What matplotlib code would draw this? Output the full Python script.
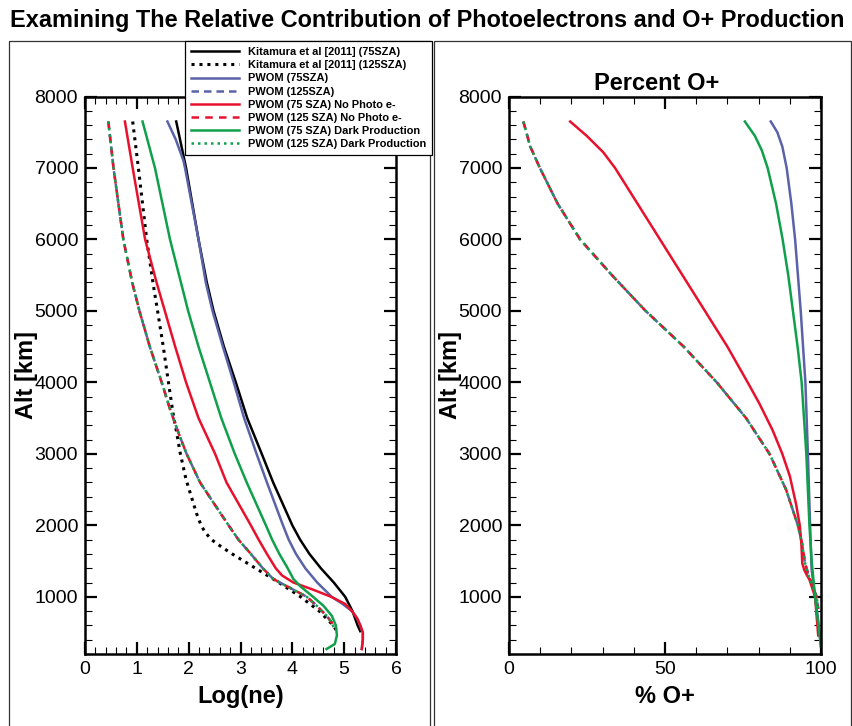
import matplotlib
matplotlib.use("Agg")
import matplotlib.pyplot as plt
from matplotlib.patches import Rectangle
from matplotlib.ticker import MultipleLocator

plt.rcParams['font.family'] = ['Liberation Sans', 'DejaVu Sans']

# ---- left panel: Log(ne) vs altitude ----
kit75_alt = [7650, 7000, 6000, 5400, 5000, 4500, 4000, 3500, 3000, 2600, 2000, 1800,
             1600, 1400, 1200, 1000, 800, 600, 520]
kit75_ne = [1.76, 1.95, 2.19, 2.35, 2.48, 2.68, 2.91, 3.13, 3.41, 3.63, 4.00, 4.15,
            4.33, 4.55, 4.80, 5.02, 5.16, 5.26, 5.31]

kit125_alt = [7650, 7000, 6000, 5400, 5000, 4500, 4000, 3560, 3330, 3000, 2640, 2170,
              2000, 1900, 1800, 1700, 1600, 1400, 1200, 1000, 800, 600, 520]
kit125_ne = [0.92, 1.03, 1.19, 1.31, 1.40, 1.51, 1.61, 1.70, 1.76, 1.84, 1.95, 2.15,
             2.24, 2.32, 2.44, 2.63, 2.84, 3.29, 3.74, 4.16, 4.52, 4.79, 4.86]

pwom75_alt = [7650, 7400, 7100, 7000, 6000, 5400, 5000, 4500, 4000, 3500, 3000, 2600,
              2000, 1800, 1600, 1400, 1200, 1000, 900, 800, 700, 600, 500, 400, 270]
pwom75_ne = [1.59, 1.75, 1.90, 1.93, 2.19, 2.33, 2.46, 2.66, 2.87, 3.07, 3.31, 3.51,
             3.82, 3.93, 4.07, 4.25, 4.48, 4.76, 4.97, 5.15, 5.25, 5.31, 5.36, 5.36, 5.34]

# 125 SZA PWOM runs (all three overlap)
pwom125_alt = [7650, 7000, 6000, 5400, 5000, 4500, 4000, 3650, 3300, 3000, 2600, 2250,
               2000, 1800, 1700, 1600, 1400, 1250, 1100, 1000, 875, 736, 640, 570]
pwom125_ne = [0.45, 0.55, 0.74, 0.91, 1.05, 1.25, 1.48, 1.63, 1.80, 1.96, 2.22, 2.54,
              2.77, 2.96, 3.08, 3.20, 3.43, 3.63, 4.02, 4.28, 4.47, 4.66, 4.76, 4.80]

nophoto75_alt = [7650, 7000, 6000, 5400, 5000, 4500, 4000, 3500, 3000, 2600, 2000, 1800,
                 1600, 1400, 1300, 1200, 1100, 1000, 900, 800, 700, 600, 500, 400, 270]
nophoto75_ne = [0.77, 0.92, 1.16, 1.38, 1.54, 1.74, 1.95, 2.19, 2.51, 2.73, 3.20, 3.35,
                3.51, 3.68, 3.80, 4.02, 4.40, 4.75, 5.02, 5.15, 5.25, 5.31, 5.36, 5.36, 5.34]

dark75_alt = [7650, 7000, 6000, 5400, 5000, 4500, 4000, 3500, 3000, 2600, 2000, 1800,
              1600, 1400, 1250, 1150, 1000, 875, 736, 600, 460, 340, 270]
dark75_ne = [1.11, 1.35, 1.64, 1.85, 1.99, 2.19, 2.41, 2.63, 2.89, 3.12, 3.49, 3.61,
             3.75, 3.91, 4.02, 4.15, 4.40, 4.60, 4.76, 4.84, 4.86, 4.82, 4.66]

# ---- right panel: percent O+ vs altitude ----
pct_pwom75_alt = [7650, 7500, 7300, 7000, 6500, 6000, 5000, 4000, 3000, 2000, 1380, 1000, 700, 300]
pct_pwom75 = [83.9, 86.0, 87.6, 89.0, 90.5, 91.7, 93.5, 95.0, 95.8, 96.5, 97.0, 98.1, 99.0, 100.0]

pct_pwom125_alt = [7650, 7300, 7000, 6500, 6000, 5500, 5000, 4500, 4000, 3500, 3000,
                   2500, 2000, 1750, 1470, 1300, 1000, 830]
pct_pwom125 = [4.6, 6.8, 9.9, 15.6, 22.8, 33.0, 43.8, 56.0, 66.6, 76.0, 83.5,
               88.8, 92.6, 93.9, 94.9, 96.0, 98.6, 99.1]

pct_nophoto75_alt = [7650, 7450, 7220, 7000, 6000, 5000, 4500, 4000, 3700, 3330, 3000,
                     2690, 2300, 2000, 1750, 1470, 1380, 1300, 1240, 1000, 460]
pct_nophoto75 = [19.6, 24.9, 30.2, 34.0, 48.4, 62.8, 70.0, 76.5, 80.3, 84.5, 87.6,
                 90.0, 92.0, 93.2, 93.7, 94.0, 94.6, 95.5, 96.3, 98.1, 99.1]

pct_dark75_alt = [7650, 7450, 7250, 7000, 6500, 6000, 5500, 5000, 4500, 4000, 3000,
                  2000, 1500, 1000, 410, 300]
pct_dark75 = [75.6, 78.8, 81.0, 82.9, 85.6, 87.7, 89.5, 91.0, 92.5, 93.8, 95.3,
              96.3, 97.0, 98.1, 99.7, 100.0]

blue = '#5a62a8'
red = '#e8112d'
green = '#10a04b'
lw = 1.8

fig = plt.figure(figsize=(8.52, 7.26), dpi=100)

# panel frames
for x0, x1 in [(9, 430), (434, 851)]:
    fig.patches.append(Rectangle((x0 / 852, -0.05), (x1 - x0) / 852, 1.05 - 41 / 726,
                                 transform=fig.transFigure, fill=False,
                                 edgecolor='#333333', linewidth=0.9))

fig.text(427 / 852, 1 - 20 / 726,
         'Examining The Relative Contribution of Photoelectrons and O+ Production',
         ha='center', va='center', fontsize=16.9, fontweight='bold')

ax1 = fig.add_axes([85 / 852, 72 / 726, 311 / 852, 557.5 / 726])
ax2 = fig.add_axes([509 / 852, 72 / 726, 312 / 852, 557.5 / 726])

h = []
h += ax1.plot(kit75_ne, kit75_alt, color='black', lw=lw, label='Kitamura et al [2011] (75SZA)')
h += ax1.plot(kit125_ne, kit125_alt, color='black', lw=lw + 0.4, ls=(0, (1, 1.6)),
              label='Kitamura et al [2011] (125SZA)')
h += ax1.plot(pwom75_ne, pwom75_alt, color=blue, lw=lw, label='PWOM (75SZA)')
h += ax1.plot(pwom125_ne, pwom125_alt, color=blue, lw=lw, ls=(0, (3, 2)), label='PWOM (125SZA)')
h += ax1.plot(nophoto75_ne, nophoto75_alt, color=red, lw=lw, label='PWOM (75 SZA) No Photo e-')
h += ax1.plot(pwom125_ne, pwom125_alt, color=red, lw=lw, ls=(0, (3, 2.5)),
              label='PWOM (125 SZA) No Photo e-')
h += ax1.plot(dark75_ne, dark75_alt, color=green, lw=lw, label='PWOM (75 SZA) Dark Production')
h += ax1.plot(pwom125_ne, pwom125_alt, color=green, lw=lw, ls=(0, (1, 1.6)),
              label='PWOM (125 SZA) Dark Production')

ax2.plot(pct_pwom75, pct_pwom75_alt, color=blue, lw=lw)
ax2.plot(pct_pwom125, pct_pwom125_alt, color=blue, lw=lw, ls=(0, (3, 2)))
ax2.plot(pct_nophoto75, pct_nophoto75_alt, color=red, lw=lw)
ax2.plot(pct_pwom125, pct_pwom125_alt, color=red, lw=lw, ls=(0, (3, 2.5)))
ax2.plot(pct_dark75, pct_dark75_alt, color=green, lw=lw)
ax2.plot(pct_pwom125, pct_pwom125_alt, color=green, lw=lw, ls=(0, (1, 1.6)))

ax1.set_xlim(0, 6)
ax1.xaxis.set_major_locator(MultipleLocator(1))
ax1.xaxis.set_minor_locator(MultipleLocator(0.2))
ax2.set_xlim(0, 100)
ax2.xaxis.set_major_locator(MultipleLocator(50))
ax2.xaxis.set_minor_locator(MultipleLocator(10))

for ax in (ax1, ax2):
    ax.set_ylim(200, 8000)
    ax.yaxis.set_major_locator(MultipleLocator(1000))
    ax.yaxis.set_minor_locator(MultipleLocator(200))
    ax.set_yticks([1000, 2000, 3000, 4000, 5000, 6000, 7000, 8000])
    ax.tick_params(which='both', direction='in', top=True, right=True, labelsize=14)
    ax.tick_params(which='major', length=8.5, width=1.6, pad=5)
    ax.tick_params(which='minor', length=5, width=0.8)
    for s in ax.spines.values():
        s.set_linewidth(1.8)
    ax.set_ylabel('Alt [km]', fontsize=17, fontweight='bold', labelpad=-2.5)

ax1.set_xlabel('Log(ne)', fontsize=17, fontweight='bold', labelpad=5)
ax2.set_xlabel('% O+', fontsize=17, fontweight='bold', labelpad=5)
ax2.set_title('Percent O+', fontsize=17, fontweight='bold', pad=5, x=0.474)

leg = fig.legend(handles=h, loc='upper left', bbox_to_anchor=(185 / 852, 1 - 41 / 726),
                 borderaxespad=0, fancybox=False, framealpha=1, edgecolor='black',
                 prop={'size': 7.9, 'weight': 'bold'}, handlelength=4.4, handletextpad=0.75,
                 labelspacing=0.29, borderpad=0.55)
leg.get_frame().set_linewidth(0.9)

fig.savefig('out.png', dpi=100)
